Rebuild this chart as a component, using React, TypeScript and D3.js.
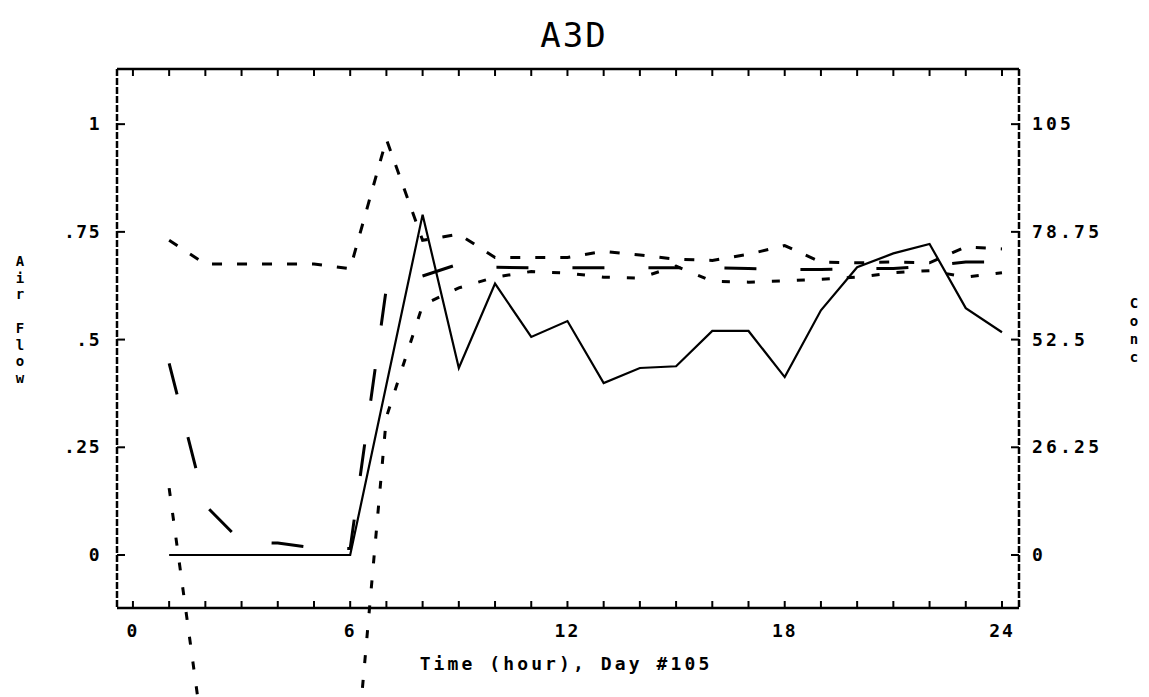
import React, { useEffect, useRef } from 'react';
import * as d3 from 'd3';

// hour of day, Day #105
const hours = [1, 2, 3, 4, 5, 6, 7, 8, 9, 10, 11, 12, 13, 14, 15, 16, 17, 18, 19, 20, 21, 22, 23, 24];

// left axis: Air Flow (solid line)
const airFlow = [0, 0, 0, 0, 0, 0, 0.395, 0.79, 0.434, 0.63, 0.506, 0.543, 0.399, 0.434, 0.438, 0.52, 0.52, 0.413, 0.568, 0.668, 0.7, 0.722, 0.573, 0.517];

// right axis: Conc (three dashed lines)
const concA = [76.7, 70.9, 70.9, 70.9, 70.9, 69.8, 101.3, 76.7, 78.2, 72.5, 72.5, 72.5, 74.0, 73.1, 72.1, 71.8, 73.3, 75.4, 71.4, 71.2, 71.4, 71.2, 75.1, 74.6];
const concB = [46.7, 12.1, 3.2, 2.9, 1.7, 1.6, 65.1, 68.0, 70.9, 70.1, 70.0, 70.0, 70.0, 70.0, 70.0, 70.0, 69.8, 69.6, 69.6, 69.8, 69.8, 70.4, 71.4, 71.4];
const concC = [16.3, -48.3, -73.5, -78.8, -75.6, -66.2, 33.6, 60.9, 65.1, 67.7, 69.1, 68.7, 67.7, 67.5, 70.4, 66.7, 66.5, 66.8, 67.2, 67.7, 68.8, 69.3, 67.7, 68.8];

const xTickValues = [0, 1, 2, 3, 4, 5, 6, 7, 8, 9, 10, 11, 12, 13, 14, 15, 16, 17, 18, 19, 20, 21, 22, 23, 24];
const xLabelValues = [0, 6, 12, 18, 24];
const leftTicks = [0, 0.25, 0.5, 0.75, 1];
const leftLabels = ['0', '.25', '.5', '.75', '1'];
const rightTicks = [0, 26.25, 52.5, 78.75, 105];
const rightLabels = ['0', '26.25', '52.5', '78.75', '105'];

const FONT = '"DejaVu Sans Mono", monospace';

const Chart = () => {
  const ref = useRef<SVGSVGElement>(null);

  useEffect(() => {
    const width = 1149;
    const height = 697;
    const frame = { left: 117, right: 1019, top: 69, bottom: 608 };

    const svg = d3.select(ref.current).attr('width', width).attr('height', height);
    svg.selectAll('*').remove();

    const x = d3.scaleLinear().domain([-0.44, 24.47]).range([frame.left, frame.right]);
    const yL = d3.scaleLinear().domain([-0.123, 1.128]).range([frame.bottom, frame.top]);
    const yR = d3.scaleLinear().domain([-0.123 * 105, 1.128 * 105]).range([frame.bottom, frame.top]);

    // frame
    const g = svg.append('g').attr('stroke', '#000').attr('fill', 'none');
    g.append('line').attr('x1', frame.left).attr('x2', frame.right).attr('y1', frame.top).attr('y2', frame.top).attr('stroke-width', 2.5);
    g.append('line').attr('x1', frame.left).attr('x2', frame.right).attr('y1', frame.bottom).attr('y2', frame.bottom).attr('stroke-width', 2.5);
    g.append('line').attr('x1', frame.left).attr('x2', frame.left).attr('y1', frame.top).attr('y2', frame.bottom).attr('stroke-width', 2.5).attr('stroke-dasharray', '7 2');
    g.append('line').attr('x1', frame.right).attr('x2', frame.right).attr('y1', frame.top).attr('y2', frame.bottom).attr('stroke-width', 2.5).attr('stroke-dasharray', '7 2');

    // x ticks top and bottom
    xTickValues.forEach((h) => {
      g.append('line').attr('x1', x(h)).attr('x2', x(h)).attr('y1', frame.top).attr('y2', frame.top + 7).attr('stroke-width', 2);
      g.append('line').attr('x1', x(h)).attr('x2', x(h)).attr('y1', frame.bottom).attr('y2', frame.bottom - 7).attr('stroke-width', 2);
    });
    leftTicks.forEach((v) => {
      g.append('line').attr('x1', frame.left).attr('x2', frame.left + 8).attr('y1', yL(v)).attr('y2', yL(v)).attr('stroke-width', 2);
    });
    rightTicks.forEach((v) => {
      g.append('line').attr('x1', frame.right).attr('x2', frame.right - 8).attr('y1', yR(v)).attr('y2', yR(v)).attr('stroke-width', 2);
    });

    // tick labels
    const txt = svg.append('g').attr('font-family', FONT).attr('fill', '#000');
    xLabelValues.forEach((h) => {
      txt.append('text').attr('x', x(h)).attr('y', 637).attr('text-anchor', 'middle')
        .attr('font-size', 18).attr('font-weight', 'bold').attr('letter-spacing', 2).text(String(h));
    });
    leftTicks.forEach((v, i) => {
      txt.append('text').attr('x', 101).attr('y', yL(v) + 6).attr('text-anchor', 'end')
        .attr('font-size', 18).attr('font-weight', 'bold').attr('letter-spacing', 1.5).text(leftLabels[i]);
    });
    rightTicks.forEach((v, i) => {
      txt.append('text').attr('x', 1032).attr('y', yR(v) + 6).attr('text-anchor', 'start')
        .attr('font-size', 18).attr('font-weight', 'bold').attr('letter-spacing', 3.2).text(rightLabels[i]);
    });

    // titles
    txt.append('text').attr('x', 574).attr('y', 47).attr('text-anchor', 'middle')
      .attr('font-size', 34).attr('letter-spacing', 2).text('A3D');
    txt.append('text').attr('x', 566).attr('y', 670).attr('text-anchor', 'middle')
      .attr('font-size', 18).attr('font-weight', 'bold').attr('letter-spacing', 3.1).text('Time (hour), Day #105');

    'Air Flow'.split('').forEach((ch, i) => {
      txt.append('text').attr('x', 20).attr('y', 266 + i * 16.7).attr('text-anchor', 'middle')
        .attr('font-size', 14).attr('font-weight', 'bold').text(ch);
    });
    'Conc'.split('').forEach((ch, i) => {
      txt.append('text').attr('x', 1134).attr('y', 308 + i * 18).attr('text-anchor', 'middle')
        .attr('font-size', 14).attr('font-weight', 'bold').text(ch);
    });

    // series
    const lineL = d3.line<number>().x((_, i) => x(hours[i])).y((d) => yL(d));
    const lineR = d3.line<number>().x((_, i) => x(hours[i])).y((d) => yR(d));

    const lines = svg.append('g').attr('fill', 'none').attr('stroke', '#000');
    lines.append('path').attr('d', lineL(airFlow)).attr('stroke-width', 2.2);
    lines.append('path').attr('d', lineR(concA)).attr('stroke-width', 3).attr('stroke-dasharray', '10 15');
    lines.append('path').attr('d', lineR(concB)).attr('stroke-width', 3).attr('stroke-dasharray', '32 44');
    lines.append('path').attr('d', lineR(concC)).attr('stroke-width', 3).attr('stroke-dasharray', '8 17');
  }, []);

  return <svg ref={ref} style={{ position: 'absolute', left: 0, top: 0, background: '#fff' }} />;
};

const App = () => <Chart />;

export default App;
